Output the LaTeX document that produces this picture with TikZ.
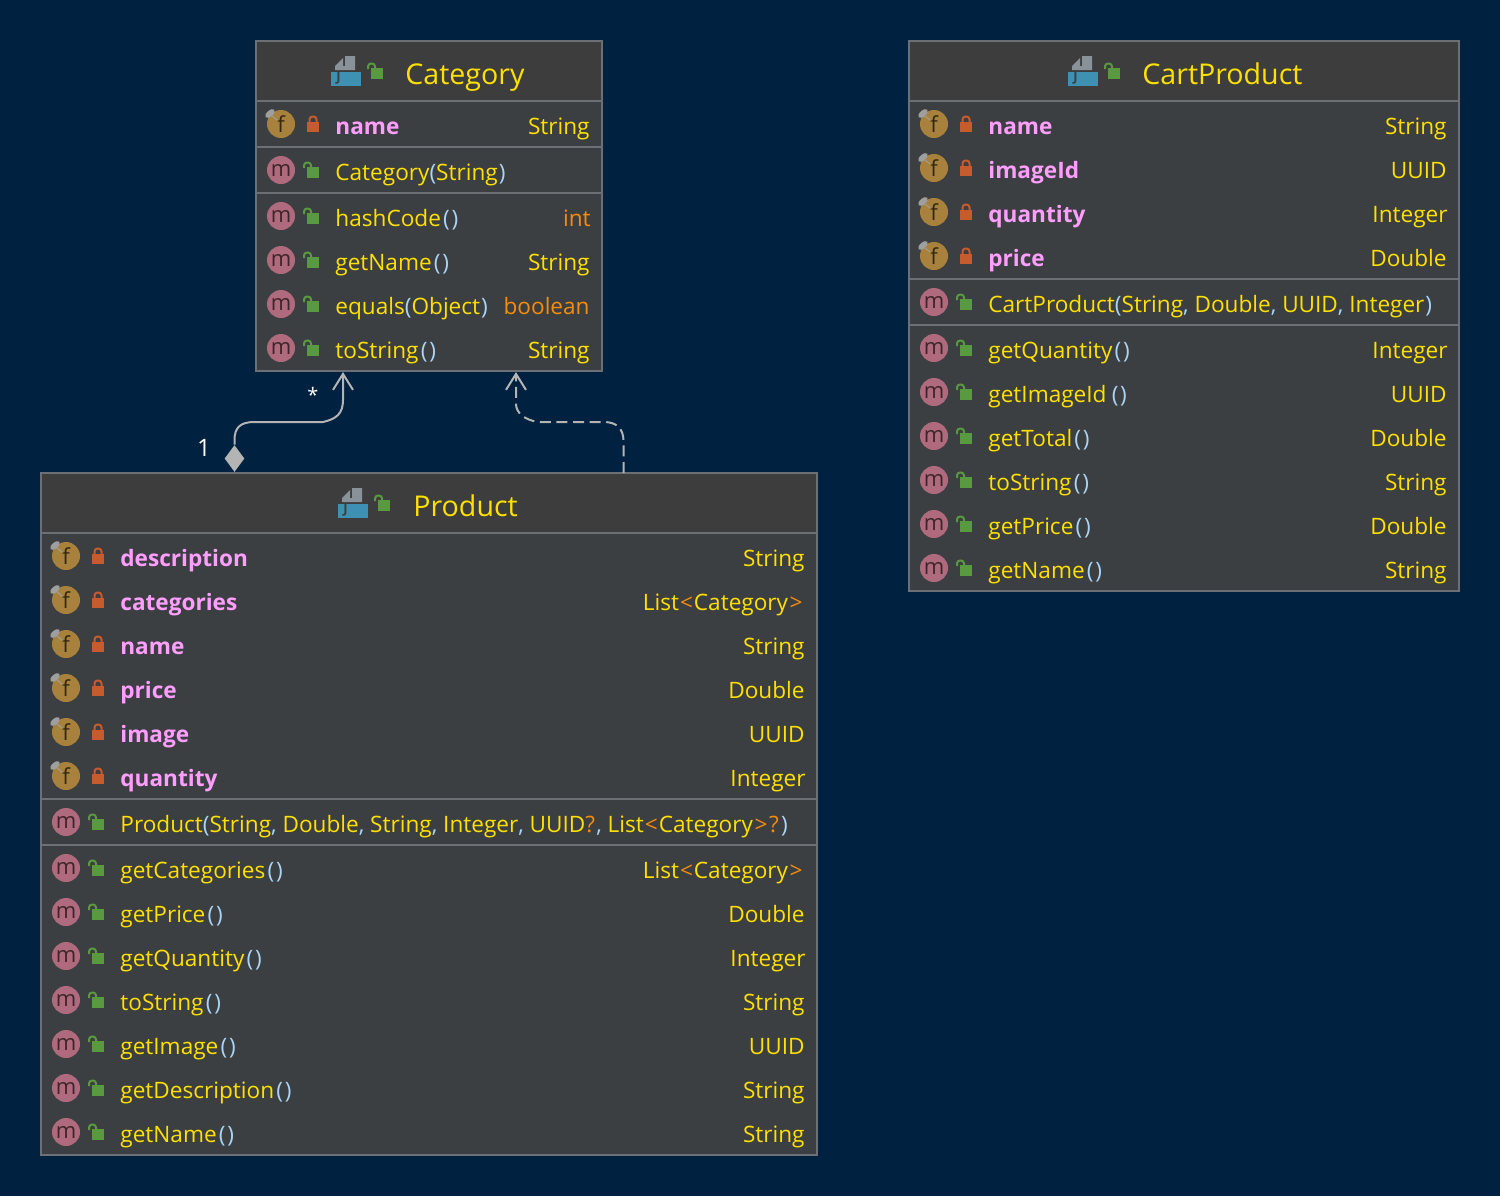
\documentclass[tikz,border=0pt]{standalone}
\usepackage{fontspec}
\setmainfont{Open Sans}
\usetikzlibrary{arrows.meta,shapes.geometric}
\definecolor{pagecol}{HTML}{00213F}
\definecolor{bodycol}{HTML}{3C3F41}
\definecolor{headcol}{HTML}{3D3D3D}
\definecolor{edgecol}{HTML}{6C7074}
\definecolor{nameyel}{HTML}{FFE000}
\definecolor{fieldpink}{HTML}{FF9EFF}
\definecolor{kworange}{HTML}{F78C08}
\definecolor{parblue}{HTML}{A8D4F5}
\definecolor{lockcol}{HTML}{C65B2E}
\definecolor{opencol}{HTML}{599A41}
\definecolor{ficon}{HTML}{A8823C}
\definecolor{micon}{HTML}{B06A7E}
\definecolor{linkcol}{HTML}{B4B4B4}
\definecolor{jblue}{HTML}{3E91B3}
\definecolor{pagegrey}{HTML}{8A9299}
\newcommand{\opn}{\textcolor{parblue}{(}}
\newcommand{\cls}{\textcolor{parblue}{\kern0.5pt)}}
\newcommand{\emp}{\textcolor{parblue}{\kern1.1pt(\kern0.9pt)}}
\newcommand{\cma}{\textcolor{parblue}{,}}
\newcommand{\qmk}{\textcolor{kworange}{?\kern0.6pt}}
\newcommand{\angl}{\textcolor{kworange}{\kern0.5pt<\kern0.5pt}}
\newcommand{\angr}{\textcolor{kworange}{\kern0.8pt>\kern0.8pt}}
\begin{document}
\begin{tikzpicture}[x=0.5pt,y=-0.5pt,
    box/.style={rectangle,draw=edgecol,line width=1pt,fill=bodycol,inner sep=0pt,outer sep=0pt,anchor=north west},
    headbox/.style={rectangle,fill=headcol,inner sep=0pt,outer sep=0pt,anchor=north west},
    title/.style={anchor=base west,inner sep=0pt,text=nameyel,font=\fontsize{14.3}{18}\selectfont},
    member/.style={anchor=base west,inner sep=0pt,text=nameyel,font=\fontsize{11.3}{14}\selectfont},
    fieldname/.style={anchor=base west,inner sep=0pt,text=fieldpink,font=\fontsize{11.3}{14}\selectfont\bfseries},
    rettype/.style={anchor=base east,inner sep=0pt,text=nameyel,font=\fontsize{11.3}{14}\selectfont},
    kwtype/.style={anchor=base east,inner sep=0pt,text=kworange,font=\fontsize{11.3}{14}\selectfont},
    rowline/.style={draw=edgecol,line width=1pt},
    link/.style={draw=linkcol,line width=1pt,-{Straight Barb[length=8pt,width=10pt,line width=1pt]}},
    glyph/.style={circle,minimum size=14pt,inner sep=0pt,font=\fontsize{11}{11}\selectfont},
    lockpic/.pic={
        \draw[lockcol,line width=1pt,rounded corners=1.5pt] (-3.5,-3) -- (-3.5,-8.5) -- (3.5,-8.5) -- (3.5,-3);
        \fill[lockcol] (-6,-3) rectangle (6,7);
    },
    openpic/.pic={
        \draw[opencol,line width=1pt,rounded corners=1.5pt] (-9,-3) -- (-9,-8.5) -- (-2,-8.5) -- (-2,-4);
        \fill[opencol] (-6,-4) rectangle (6,7);
    },
    fieldrow/.pic={
        \node[glyph,fill=ficon,text=ficon!30!black] (fglyph) at (0,-1) {f};
        \fill[gray!75,shift={(-11,-11.5)},rotate=40] (0,0) ellipse (2.9pt and 1.5pt);
        \draw[gray!75,line width=0.5pt] (-9,-9) -- (-4,-5);
        \pic at (32,0) {lockpic};
    },
    methodrow/.pic={
        \node[glyph,fill=micon,text=micon!35!black] (mglyph) at (0,-1) {m};
        \pic at (32,0) {openpic};
    },
    classpic/.pic={
        \fill[pagegrey] (14,-16) -- (24,-16) -- (24,-2) -- (4,-2) -- (4,-6) -- (12,-14) -- (12,-6) -- (14,-6) -- cycle;
        \fill[jblue] (0,0) rectangle (30,14);
        \node[inner sep=0pt,text=bodycol,font=\fontsize{6.5}{7}\selectfont\bfseries] (jglyph) at (7.5,6) {J};
        \pic at (46,0) {openpic};
    }
  ]
  \fill[pagecol] (0,0) rectangle (1500,1196);
  \useasboundingbox (0,0) rectangle (1500,1196);

  % Category
  \node[box,minimum width=173pt,minimum height=165pt] (category) at (256,41) {};
  \node[headbox,minimum width=172pt,minimum height=29.5pt] (catHead) at (257,42) {};
  \draw[rowline] (category.west |- 0,101) -- (category.east |- 0,101);
  \draw[rowline] (category.west |- 0,147) -- (category.east |- 0,147);
  \draw[rowline] (category.west |- 0,193) -- (category.east |- 0,193);
  \pic at (331,72) {classpic};
  \node[title] (catTitle) at (405,84) {Category};
  \pic at (281,125) {fieldrow};
  \node[fieldname] (catName) at (335,134) {name};
  \node[rettype] (catNameT) at (590,134) {String};
  \pic at (281,171) {methodrow};
  \node[member] (catCtor) at (335,180) {Category\opn String\cls};
  \pic at (281,217) {methodrow};
  \node[member] (catHash) at (335,226) {hashCode\emp};
  \node[kwtype] (catHashT) at (591,226) {int};
  \pic at (281,261) {methodrow};
  \node[member] (catGet) at (335,270) {getName\emp};
  \node[rettype] (catGetT) at (590,270) {String};
  \pic at (281,305) {methodrow};
  \node[member] (catEq) at (335,314) {equals\opn Object\cls};
  \node[kwtype] (catEqT) at (590,314) {boolean};
  \pic at (281,349) {methodrow};
  \node[member] (catStr) at (335,358) {toString\emp};
  \node[rettype] (catStrT) at (590,358) {String};

  % CartProduct
  \node[box,minimum width=275pt,minimum height=275pt] (cart) at (909,41) {};
  \node[headbox,minimum width=274pt,minimum height=29.5pt] (cartHead) at (910,42) {};
  \draw[rowline] (cart.west |- 0,101) -- (cart.east |- 0,101);
  \draw[rowline] (cart.west |- 0,279) -- (cart.east |- 0,279);
  \draw[rowline] (cart.west |- 0,325) -- (cart.east |- 0,325);
  \pic at (1068,72) {classpic};
  \node[title] (cartTitle) at (1142,84) {CartProduct};
  \pic at (934,125) {fieldrow};
  \node[fieldname] (cartName) at (988,134) {name};
  \node[rettype] (cartNameT) at (1447,134) {String};
  \pic at (934,169) {fieldrow};
  \node[fieldname] (cartImg) at (988,178) {imageId};
  \node[rettype] (cartImgT) at (1447,178) {UUID};
  \pic at (934,213) {fieldrow};
  \node[fieldname] (cartQty) at (988,222) {quantity};
  \node[rettype] (cartQtyT) at (1448,222) {Integer};
  \pic at (934,257) {fieldrow};
  \node[fieldname] (cartPrice) at (988,266) {price};
  \node[rettype] (cartPriceT) at (1447,266) {Double};
  \pic at (934,303) {methodrow};
  \node[member] (cartCtor) at (988,312) {CartProduct\opn String\cma{} Double\cma{} UUID\cma{} Integer\cls};
  \pic at (934,349) {methodrow};
  \node[member] (cartGetQ) at (988,358) {getQuantity\emp};
  \node[rettype] (cartGetQT) at (1448,358) {Integer};
  \pic at (934,393) {methodrow};
  \node[member] (cartGetI) at (988,402) {getImageId\kern1.5pt\emp};
  \node[rettype] (cartGetIT) at (1447,402) {UUID};
  \pic at (934,437) {methodrow};
  \node[member] (cartTot) at (988,446) {getTotal\emp};
  \node[rettype] (cartTotT) at (1447,446) {Double};
  \pic at (934,481) {methodrow};
  \node[member] (cartStr) at (988,490) {toString\emp};
  \node[rettype] (cartStrT) at (1447,490) {String};
  \pic at (934,525) {methodrow};
  \node[member] (cartGetP) at (988,534) {getPrice\emp};
  \node[rettype] (cartGetPT) at (1447,534) {Double};
  \pic at (934,569) {methodrow};
  \node[member] (cartGetN) at (988,578) {getName\emp};
  \node[rettype] (cartGetNT) at (1447,578) {String};

  % Product
  \node[box,minimum width=388pt,minimum height=341pt] (product) at (41,473) {};
  \node[headbox,minimum width=387pt,minimum height=29.5pt] (prodHead) at (42,474) {};
  \draw[rowline] (product.west |- 0,533) -- (product.east |- 0,533);
  \draw[rowline] (product.west |- 0,799) -- (product.east |- 0,799);
  \draw[rowline] (product.west |- 0,845) -- (product.east |- 0,845);
  \pic at (338,504) {classpic};
  \node[title] (prodTitle) at (413,516) {Product};
  \pic at (66,557) {fieldrow};
  \node[fieldname] (prodDesc) at (120,566) {description};
  \node[rettype] (prodDescT) at (805,566) {String};
  \pic at (66,601) {fieldrow};
  \node[fieldname] (prodCats) at (120,610) {categories};
  \node[rettype] (prodCatsT) at (804.6,610) {List\angl Category\angr};
  \pic at (66,645) {fieldrow};
  \node[fieldname] (prodName) at (120,654) {name};
  \node[rettype] (prodNameT) at (805,654) {String};
  \pic at (66,689) {fieldrow};
  \node[fieldname] (prodPrice) at (120,698) {price};
  \node[rettype] (prodPriceT) at (805,698) {Double};
  \pic at (66,733) {fieldrow};
  \node[fieldname] (prodImg) at (120,742) {image};
  \node[rettype] (prodImgT) at (805,742) {UUID};
  \pic at (66,777) {fieldrow};
  \node[fieldname] (prodQty) at (120,786) {quantity};
  \node[rettype] (prodQtyT) at (806,786) {Integer};
  \pic at (66,823) {methodrow};
  \node[member] (prodCtor) at (120,832) {Product\opn String\cma{} Double\cma{} String\cma{} Integer\cma{} UUID\qmk\cma{} List\angl Category\angr\qmk\cls};
  \pic at (66,869) {methodrow};
  \node[member] (prodGetC) at (120,878) {getCategories\emp};
  \node[rettype] (prodGetCT) at (804.6,878) {List\angl Category\angr};
  \pic at (66,913) {methodrow};
  \node[member] (prodGetP) at (120,922) {getPrice\emp};
  \node[rettype] (prodGetPT) at (805,922) {Double};
  \pic at (66,957) {methodrow};
  \node[member] (prodGetQ) at (120,966) {getQuantity\emp};
  \node[rettype] (prodGetQT) at (806,966) {Integer};
  \pic at (66,1001) {methodrow};
  \node[member] (prodStr) at (120,1010) {toString\emp};
  \node[rettype] (prodStrT) at (805,1010) {String};
  \pic at (66,1045) {methodrow};
  \node[member] (prodGetI) at (120,1054) {getImage\emp};
  \node[rettype] (prodGetIT) at (805,1054) {UUID};
  \pic at (66,1089) {methodrow};
  \node[member] (prodGetD) at (120,1098) {getDescription\emp};
  \node[rettype] (prodGetDT) at (805,1098) {String};
  \pic at (66,1133) {methodrow};
  \node[member] (prodGetN) at (120,1142) {getName\emp};
  \node[rettype] (prodGetNT) at (805,1142) {String};

  % links
  \node[diamond,fill=linkcol,inner sep=0pt,minimum width=10pt,minimum height=13.5pt] (compEnd) at (234.5,458.5) {};
  \coordinate (compTip) at (343,372);
  \coordinate (useTip) at (516,372);
  \coordinate (useFoot) at (623.5,473);
  \draw[link] (compEnd.north) -- (234.5,440) .. controls (234.5,428) and (240,422) .. (254,422)
     -- (323,422) .. controls (336,419) and (343,414) .. (343,400) -- (compTip);
  \draw[link,dash pattern=on 5.5pt off 2.8pt] (useFoot) -- (623.5,441) .. controls (623.5,428) and (616,422) .. (604,422)
     -- (538,422) .. controls (525,420) and (516,413) .. (516,404) -- (useTip);
  \node[text=white,inner sep=0pt,font=\fontsize{10}{12}\selectfont] (manyLbl) at (313,395) {*};
  \node[text=white,inner sep=0pt,font=\fontsize{12}{14}\selectfont] (oneLbl) at (204,448) {1};
\end{tikzpicture}
\end{document}
